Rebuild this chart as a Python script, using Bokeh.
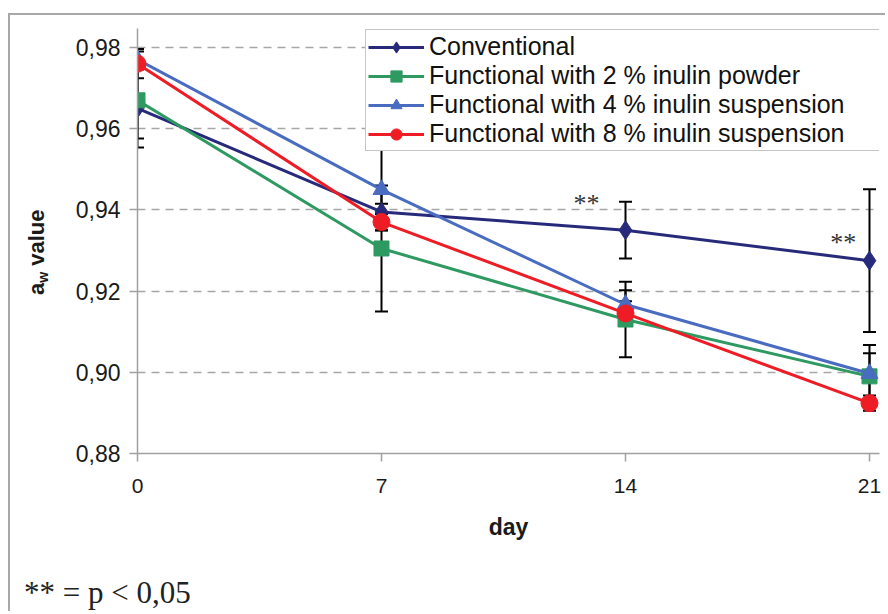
from bokeh.plotting import figure
from bokeh.layouts import row, column
from bokeh.models import (Range1d, FixedTicker, CustomJSTickFormatter, Whisker, TeeHead,
                          ColumnDataSource, Legend, LegendItem, Label, Div)
from bokeh.embed import file_html
from bokeh.resources import INLINE

# ---- data ----
days = [0, 7, 14, 21]
series_names = ["Conventional",
                "Functional with 2 % inulin powder",
                "Functional with 4 % inulin suspension",
                "Functional with 8 % inulin suspension"]
conventional = [0.965, 0.9395, 0.935, 0.9275]
conventional_err = [0.0096, 0.002, 0.007, 0.0176]
powder2 = [0.967, 0.9305, 0.913, 0.899]
powder2_err = [0.0094, 0.0155, 0.0093, 0.0057]
susp4 = [0.977, 0.945, 0.9167, 0.8997]
susp4_err = [0.002, 0.0101, 0.0035, 0.007]
susp8 = [0.976, 0.937, 0.9145, 0.8924]
susp8_err = [0.0036, 0.002, 0.003, 0.0019]
y_ticks = [0.88, 0.90, 0.92, 0.94, 0.96, 0.98]
x_ticks = [0, 7, 14, 21]
sig_x = [12.88, 20.25]
sig_y = [0.9381, 0.9285]
x_label = "day"
y_label_html = "a<sub style='font-size:14px; vertical-align:-4px; line-height:0'>w</sub> value"
footnote = "** = p < 0,05"

colors = ["#272a7a", "#2e9a62", "#4a6cc0", "#ee1d25"]
markers = ["diamond", "square", "triangle", "circle"]
sizes = [19, 15, 17, 17]
values = [conventional, powder2, susp4, susp8]
errors = [conventional_err, powder2_err, susp4_err, susp8_err]

FONT = "Liberation Sans"

p = figure(width=820, height=562, output_backend="svg", toolbar_location=None,
           x_range=Range1d(0, 21.287), y_range=Range1d(0.88, 0.98468),
           min_border_left=72, min_border_top=13, min_border_right=6, min_border_bottom=124,
           margin=0)
p.outline_line_color = None
p.background_fill_color = "white"

p.xgrid.visible = False
p.ygrid.grid_line_color = "#a6a6a6"
p.ygrid.grid_line_dash = "8 6"
p.ygrid.grid_line_width = 1.5

p.xaxis.ticker = FixedTicker(ticks=x_ticks)
p.yaxis.ticker = FixedTicker(ticks=y_ticks)
p.yaxis.formatter = CustomJSTickFormatter(code="return tick.toFixed(2).replace('.', ',');")
for ax in (p.xaxis, p.yaxis):
    ax.axis_line_color = "#a0a0a0"
    ax.axis_line_width = 1.5
    ax.major_tick_line_color = "#a0a0a0"
    ax.major_tick_line_width = 1.5
    ax.major_tick_out = 8
    ax.major_tick_in = 0
    ax.minor_tick_line_color = None
    ax.major_label_text_font = FONT
    ax.major_label_text_color = "#1a1a1a"
p.yaxis.major_label_text_font_size = "23px"
p.yaxis.major_label_standoff = 9
p.xaxis.major_label_text_font_size = "21px"
p.xaxis.major_label_standoff = 17
p.xaxis.axis_label = x_label
p.xaxis.axis_label_text_font = FONT
p.xaxis.axis_label_text_font_style = "bold"
p.xaxis.axis_label_text_font_size = "23px"
p.xaxis.axis_label_standoff = 18
p.xaxis.axis_label_text_color = "#1a1a1a"

items = []
for name, vals, errs, col, mk, sz in zip(series_names, values, errors, colors, markers, sizes):
    src = ColumnDataSource(dict(x=days, y=vals,
                                upper=[v + e for v, e in zip(vals, errs)],
                                lower=[v - e for v, e in zip(vals, errs)]))
    w = Whisker(source=src, base="x", upper="upper", lower="lower",
                line_color="black", line_width=2, level="underlay",
                upper_head=TeeHead(size=13, line_color="black", line_width=2),
                lower_head=TeeHead(size=13, line_color="black", line_width=2))
    p.add_layout(w)
    ln = p.line("x", "y", source=src, line_color=col, line_width=3)
    sc = p.scatter("x", "y", source=src, marker=mk, size=sz, fill_color=col, line_color=col)
    items.append(LegendItem(label=name, renderers=[ln, sc]))

legend = Legend(items=items, location=(228, 302), padding=2, spacing=0, margin=0,
                glyph_width=56, glyph_height=28, label_height=28, label_standoff=5,
                label_width=470, label_text_font=FONT, label_text_font_size="25px",
                label_text_color="#111111", border_line_color="#8c8c8c", border_line_width=1.5,
                background_fill_color="white", background_fill_alpha=1)
p.add_layout(legend)

for sx, sy in zip(sig_x, sig_y):
    p.add_layout(Label(x=sx, y=sy, text="**", text_font="Liberation Serif",
                       text_font_size="26px", text_align="center", text_color="#333333"))

ylab = Div(width=55, height=562, margin=0,
           text=("<div style=\"position:relative; left:16px; top:280px; width:150px; "
                 "transform-origin:0 0; transform:rotate(-90deg); white-space:nowrap; "
                 "font-family:'Liberation Sans'; font-weight:bold; font-size:22px; "
                 "line-height:22px; color:#1a1a1a;\">" + y_label_html + "</div>"))

foot = Div(width=875, height=34, margin=0, text=footnote, render_as_text=True,
           styles={"font-family": "'Liberation Serif'", "font-size": "31px",
                   "line-height": "31px", "padding-left": "14px", "color": "#222222"})

root = column(row(ylab, p, margin=0, spacing=0), foot, margin=0, spacing=0,
              styles={"margin-left": "8px", "margin-top": "13px",
                      "border-left": "2px solid #a8a8a8", "border-top": "2px solid #a8a8a8"})

open("out.html", "w").write(file_html(root, INLINE))
